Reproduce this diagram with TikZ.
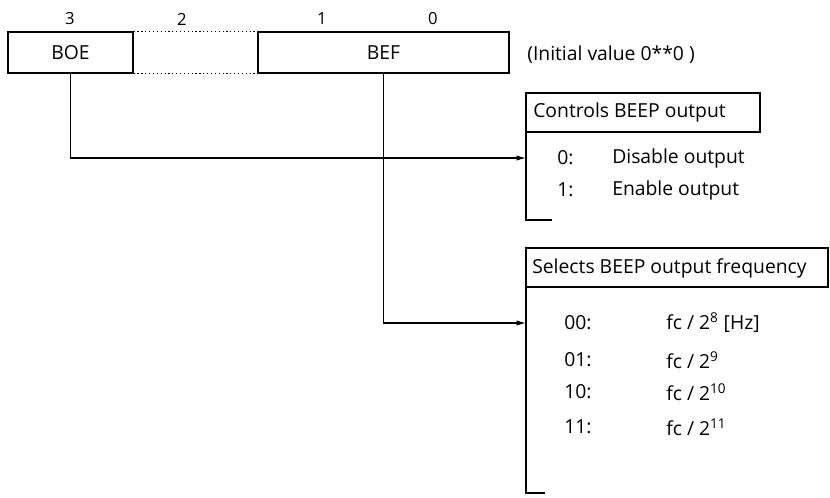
\documentclass[tikz,border=0pt]{standalone}
\usepackage{fontspec}
\setmainfont{Open Sans}
\usetikzlibrary{arrows.meta}

\tikzset{
  field/.style={draw, line width=0.9pt, minimum height=30.75pt, inner sep=0pt},
  txt/.style={inner sep=0.75pt, font=\fontsize{14.5}{16}\selectfont},
  bitno/.style={inner sep=0.75pt, font=\fontsize{12.5}{14}\selectfont},
  conn/.style={line width=0.9pt, -{Latex[length=7pt,width=4pt]}},
}

\begin{document}
\begin{tikzpicture}[x=0.75pt,y=0.75pt,yscale=-1,xscale=1]
    \useasboundingbox (0,0) rectangle (830,497);

    % Bit numbers
    \node [bitno] (b3) at (70,19) {3};
    \node [bitno] (b2) at (182,19) {2};
    \node [bitno] (b1) at (322,19) {1};
    \node [bitno] (b0) at (433,19) {0};

    % Register fields
    \node [field, minimum width=93.75pt, txt] (boe) at (70.5,52.5) {BOE};
    \node [field, minimum width=188.25pt, txt] (bef) at (383.5,52.5) {BEF};
    \draw [dotted, line width=0.9pt] (boe.north east) -- (bef.north west);
    \draw [dotted, line width=0.9pt] (boe.south east) -- (bef.south west);
    % Text Node
    \node [txt, anchor=west] (init) at (526,55) {(Initial value 0**0 )};

    % Controls BEEP output
    \draw [line width=0.9pt] (526,93) rectangle (760,132);
    \node [txt, anchor=west] (ctlhead) at (532,112.5) {Controls BEEP output};
    \coordinate (ctlbar) at (526,132);
    \draw [line width=0.9pt] (ctlbar) -- (526,220) -- (552,220);
    \node [txt, anchor=west] (ctl0) at (556,158) {0:};
    \node [txt, anchor=west] (ctl0t) at (611,158) {Disable output};
    \node [txt, anchor=west] (ctl1) at (556,190) {1:};
    \node [txt, anchor=west] (ctl1t) at (611,190) {Enable output};

    % Selects BEEP output frequency
    \draw [line width=0.9pt] (526,248) rectangle (828,287);
    \node [txt, anchor=west] (frqhead) at (531,268) {Selects BEEP output frequency};
    \coordinate (frqbar) at (526,287);
    \draw [line width=0.9pt] (frqbar) -- (526,493) -- (545,493);
    \node [txt, anchor=west] (f00) at (563,323) {00:};
    \node [txt, anchor=west] (f00t) at (665,323) {fc / 2\textsuperscript{8} [Hz]};
    \node [txt, anchor=west] (f01) at (563,360) {01:};
    \node [txt, anchor=west] (f01t) at (665,360) {fc / 2\textsuperscript{9}};
    \node [txt, anchor=west] (f10) at (563,392) {10:};
    \node [txt, anchor=west] (f10t) at (665,392) {fc / 2\textsuperscript{10}};
    \node [txt, anchor=west] (f11) at (563,427) {11:};
    \node [txt, anchor=west] (f11t) at (665,427) {fc / 2\textsuperscript{11}};

    % Connectors
    \draw [conn] (boe.south) |- (ctlbar |- ctl0);
    \draw [conn] (bef.south) |- (frqbar |- f00);
\end{tikzpicture}
\end{document}
